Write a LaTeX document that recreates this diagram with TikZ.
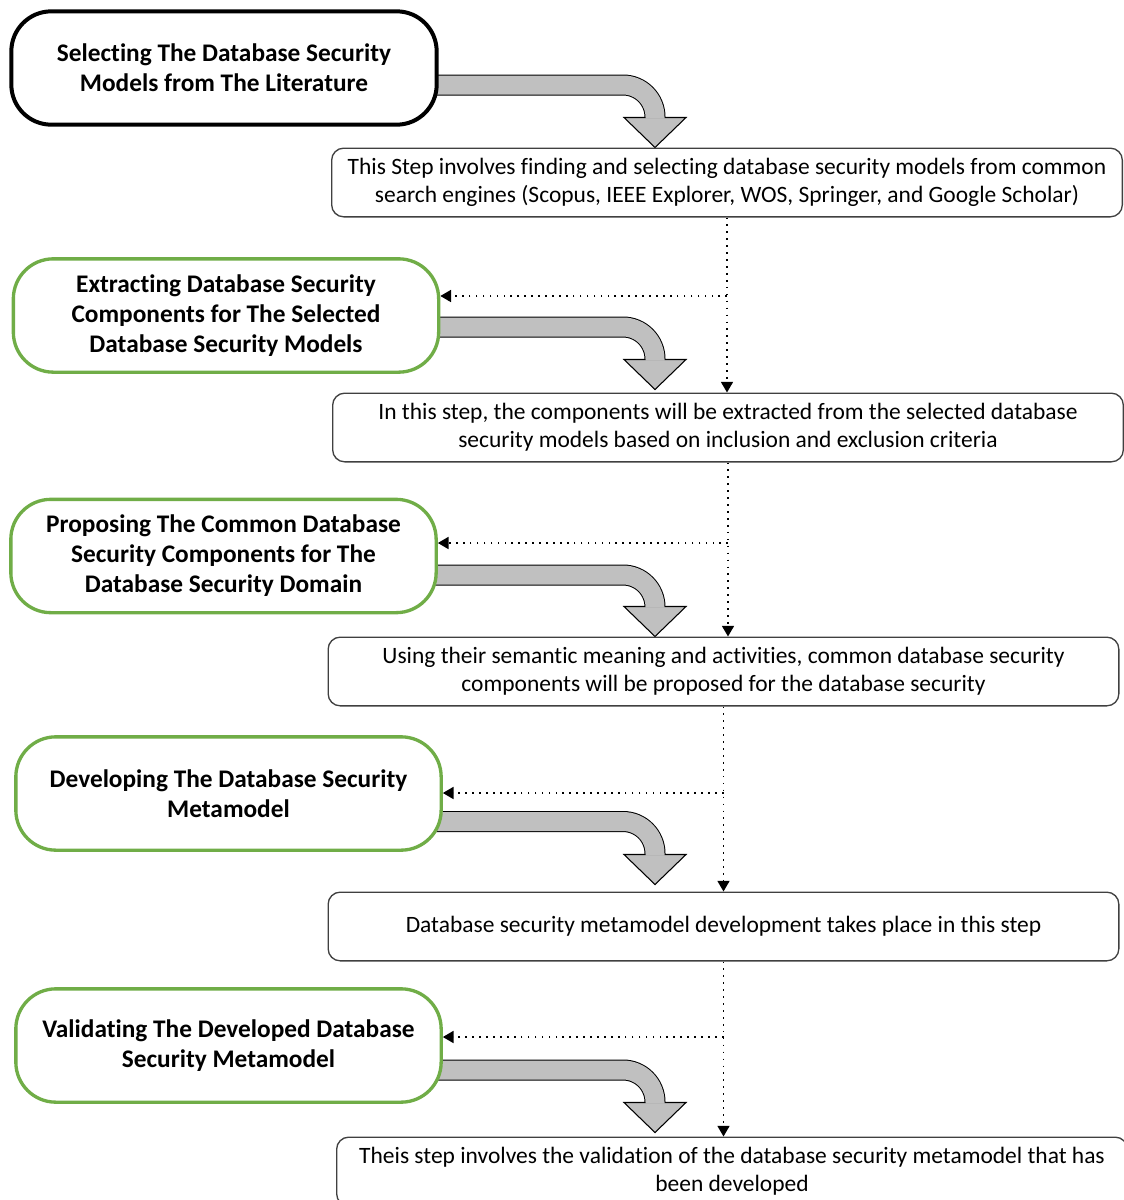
\documentclass[tikz,border=0pt]{standalone}
\usepackage{fontspec}
\setmainfont{Carlito}[Ligatures=NoCommon]
\usetikzlibrary{arrows.meta, backgrounds, calc}
\definecolor{stepgreen}{HTML}{70AD47}
\definecolor{arrowgray}{HTML}{C0C0C0}
\definecolor{descborder}{HTML}{404040}
\tikzset{
  stage/.style={rectangle, rounded corners=30pt, align=center, fill=white, draw=stepgreen, line width=2.5pt, minimum width=319pt, minimum height=85pt, inner sep=0pt, font=\fontsize{19}{22.5}\selectfont\bfseries},
  firststage/.style={stage, draw=black, line width=3pt},
  desc/.style={rectangle, rounded corners=9pt, align=center, fill=white, draw=descborder, line width=1pt, minimum width=593pt, minimum height=51.5pt, inner sep=0pt, font=\fontsize{17.6}{21}\selectfont},
  dotflow/.style={line width=1.2pt, dash pattern=on 1.2pt off 4pt, -{Triangle[length=8pt, width=9pt]}},
  bentbody/.style={line width=15.75pt, rounded corners=24pt}
}
% thick grey bent arrow: start point, tip point
\newcommand{\bentarrow}[2]{%
  \draw[bentbody, draw=black] (#1) -| ($(#2)+(0,-30)$);
  \draw[fill=arrowgray, draw=black, line width=0.8pt] ($(#2)+(-31,-30)$) -- (#2) -- ($(#2)+(31,-30)$) -- cycle;
  \draw[bentbody, line width=14.25pt, draw=arrowgray] (#1) -| ($(#2)+(0,-29)$);
}

\begin{document}
\begin{tikzpicture}[x=0.75pt, y=-0.75pt]

\useasboundingbox (0,0) rectangle (1124,1200);

\node[firststage] (sel) at (224,68) {Selecting The Database Security\\Models from The Literature};
\node[desc] (selinfo) at (727,182.5) {This Step involves finding and selecting database security models from common\\search engines (Scopus, IEEE Explorer, WOS, Springer, and Google Scholar)};

\node[stage] (ext) at (226,315.5) {Extracting Database Security\\Components for The Selected\\Database Security Models};
\node[desc] (extinfo) at (728,427.5) {In this step, the components will be extracted from the selected database\\security models based on inclusion and exclusion criteria};

\node[stage] (prop) at (223.5,556) {Proposing The Common Database\\Security Components for The\\Database Security Domain};
\node[desc] (propinfo) at (723.5,671.5) {Using their semantic meaning and activities, common database security\\components will be proposed for the database security};

\node[stage] (dev) at (228.5,793.5) {Developing The Database Security\\Metamodel};
\node[desc] (devinfo) at (723.5,926.5) {Database security metamodel development takes place in this step};

\node[stage] (val) at (228.5,1045.5) {Validating The Developed Database\\Security Metamodel};
\node[desc] (valinfo) at (732,1171.5) {Theis step involves the validation of the database security metamodel that has\\been developed};

% bent arrows from each stage to its description
\coordinate (sel-out) at ($(sel.east)+(-20,17)$);
\coordinate (sel-tip) at (655,0 |- selinfo.north);
\coordinate (ext-out) at ($(ext.east)+(-20,11.5)$);
\coordinate (ext-tip) at ($(655,0 |- extinfo.north)+(0,-3)$);
\coordinate (prop-out) at ($(prop.east)+(-20,19)$);
\coordinate (prop-tip) at (655,0 |- propinfo.north);
\coordinate (dev-out) at ($(dev.east)+(-20,28)$);
\coordinate (dev-tip) at ($(655,0 |- devinfo.north)+(0,-7)$);
\coordinate (val-out) at ($(val.east)+(-20,24.5)$);
\coordinate (val-tip) at ($(655,0 |- valinfo.north)+(0,-4)$);

\begin{pgfonlayer}{background}
  \bentarrow{sel-out}{sel-tip}
  \bentarrow{ext-out}{ext-tip}
  \bentarrow{prop-out}{prop-tip}
  \bentarrow{dev-out}{dev-tip}
  \bentarrow{val-out}{val-tip}
\end{pgfonlayer}

% dotted flow down the descriptions, with branches back to the stages
\coordinate (ext-in) at (selinfo.south |- 0,296);
\coordinate (prop-in) at (extinfo.south |- 0,543);
\coordinate (dev-in) at (propinfo.south |- 0,793);
\coordinate (val-in) at (devinfo.south |- 0,1037);

\draw[dotflow] (selinfo.south) -- (selinfo.south |- extinfo.north);
\draw[dotflow] (ext-in) -- (ext-in -| ext.east);
\draw[dotflow] (extinfo.south) -- (extinfo.south |- propinfo.north);
\draw[dotflow] (prop-in) -- (prop-in -| prop.east);
\draw[dotflow] (propinfo.south) -- (propinfo.south |- devinfo.north);
\draw[dotflow] (dev-in) -- (dev-in -| dev.east);
\draw[dotflow] (devinfo.south) -- (devinfo.south |- valinfo.north);
\draw[dotflow] (val-in) -- (val-in -| val.east);

\end{tikzpicture}
\end{document}
